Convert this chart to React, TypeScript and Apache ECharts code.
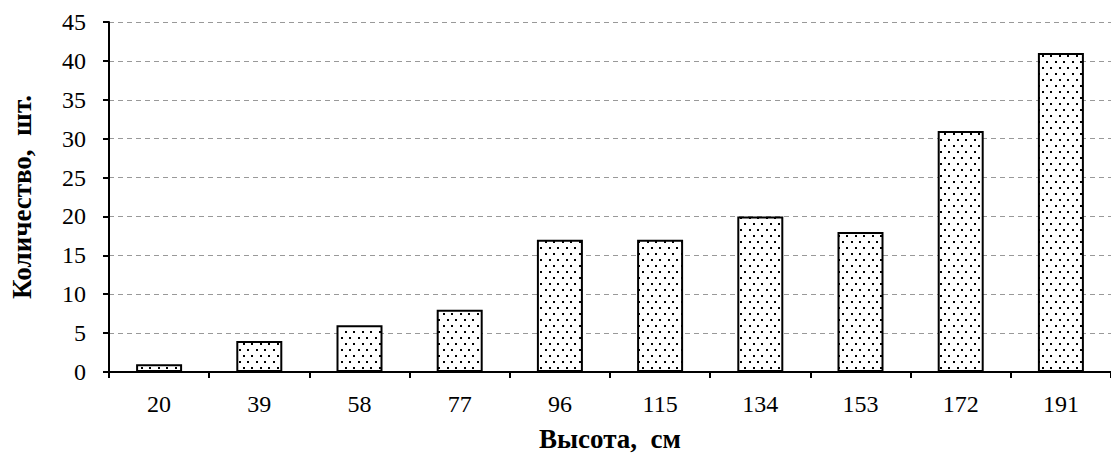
import React, { useEffect, useRef } from "react";
import * as echarts from "echarts";

const categories = ["20", "39", "58", "77", "96", "115", "134", "153", "172", "191"];
const counts = [1, 4, 6, 8, 17, 17, 20, 18, 31, 41];
const yTicks = { min: 0, max: 45, interval: 5 };
const xTitle = "Высота,  см";
const yTitle = "Количество,  шт.";

function makePattern(): string {
  const c = document.createElement("canvas");
  c.width = 17;
  c.height = 12;
  const ctx = c.getContext("2d")!;
  ctx.fillStyle = "#ffffff";
  ctx.fillRect(0, 0, 17, 12);
  ctx.fillStyle = "#000000";
  ctx.fillRect(1, 1, 2, 2);
  ctx.fillRect(9, 1, 2, 2);
  ctx.fillRect(5, 7, 2, 2);
  ctx.fillRect(13, 7, 2, 2);
  return c.toDataURL();
}

export default function App() {
  const ref = useRef<HTMLDivElement>(null);
  useEffect(() => {
    if (!ref.current) return;
    const chart = echarts.init(ref.current, null, { renderer: "svg" });
    const font = "'Liberation Serif', 'Times New Roman', serif";
    chart.setOption({
      animation: false,
      backgroundColor: "#ffffff",
      textStyle: { fontFamily: font },
      grid: { left: 109, right: -11, top: 22, bottom: 85, containLabel: false },
      xAxis: {
        type: "category",
        data: categories,
        name: xTitle,
        nameLocation: "middle",
        nameGap: 53,
        nameTextStyle: { fontFamily: font, fontSize: 27, fontWeight: "bold", color: "#000" },
        axisLine: { lineStyle: { color: "#000", width: 2 } },
        axisTick: { show: true, length: 6, lineStyle: { color: "#000", width: 2 } },
        axisLabel: { fontFamily: font, fontSize: 24, color: "#000", margin: 20 },
      },
      yAxis: {
        type: "value",
        min: yTicks.min,
        max: yTicks.max,
        interval: yTicks.interval,
        name: yTitle,
        nameLocation: "middle",
        nameGap: 74,
        nameTextStyle: { fontFamily: font, fontSize: 27, fontWeight: "bold", color: "#000" },
        axisLine: { show: true, lineStyle: { color: "#000", width: 2 } },
        axisTick: { show: true, length: 6, lineStyle: { color: "#000", width: 2 } },
        axisLabel: { fontFamily: font, fontSize: 24, color: "#000", margin: 23 },
        splitLine: { show: true, lineStyle: { color: "#999", type: [5, 4], width: 1 } },
      },
      series: [
        {
          type: "bar",
          data: counts,
          barWidth: 46,
          itemStyle: {
            color: { image: makePattern(), repeat: "repeat" },
            borderColor: "#000",
            borderWidth: 2,
          },
        },
      ],
    });
    return () => chart.dispose();
  }, []);
  return (
    <div
      ref={ref}
      style={{ position: "fixed", left: 0, top: 0, width: 1111, height: 457, background: "#fff" }}
    />
  );
}
